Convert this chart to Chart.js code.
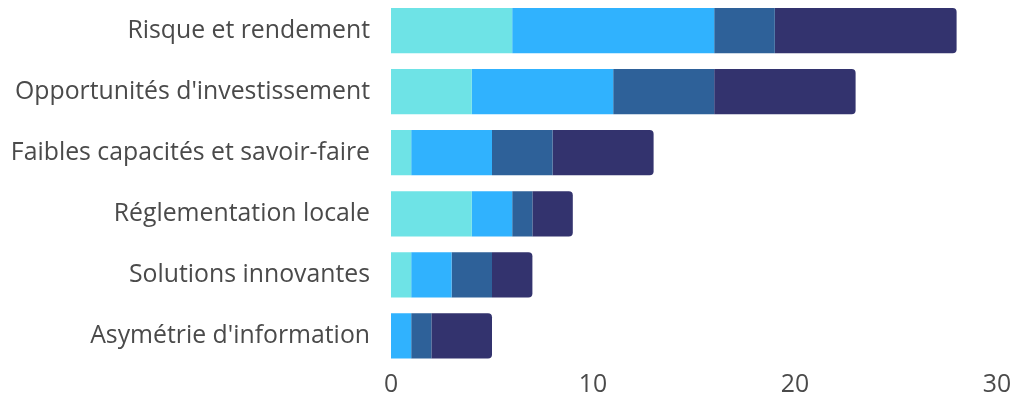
<!DOCTYPE html>
<html>
<head>
<meta charset="utf-8">
<script src="https://cdn.jsdelivr.net/npm/chart.js@4"></script>
<style>
  html, body { margin: 0; padding: 0; background: #fff; }
  #wrap { width: 1014px; height: 401px; position: relative; }
</style>
</head>
<body>
<div id="wrap"><canvas id="barriersChart"></canvas></div>
<script>
'use strict';

let categories = [
  'Risque et rendement',
  "Opportunités d'investissement",
  'Faibles capacités et savoir-faire',
  'Réglementation locale',
  'Solutions innovantes',
  "Asymétrie d'information"
];
let series1 = [6, 4, 1, 4, 1, 0];
let series2 = [10, 7, 4, 2, 2, 1];
let series3 = [3, 5, 3, 1, 2, 1];
let series4 = [9, 7, 5, 2, 2, 3];
let seriesNames = ['Série 1', 'Série 2', 'Série 3', 'Série 4'];
let xTicks = [0, 10, 20, 30];

let colors = ['#6ee3e6', '#30b2fe', '#2e6199', '#33336e'];
let textColor = '#4a4a4a';
let font = { family: "'Open Sans', sans-serif", size: 24.8, weight: 400 };

let ctx = document.getElementById('barriersChart').getContext('2d');

function makeDataset (i, values) {
  return {
    label: seriesNames[i],
    data: values,
    backgroundColor: colors[i],
    borderWidth: 0,
    borderRadius: i === 3 ? 4 : 0,
    borderSkipped: 'start',
    barPercentage: 0.74,
    categoryPercentage: 1
  };
}

// drop the half-label padding chart.js adds around the axes
function noPadding (scale) {
  scale.paddingTop = 0;
  scale.paddingBottom = 0;
  scale.paddingLeft = 0;
  scale.paddingRight = 0;
}

let chart = new Chart(ctx, {
  type: 'bar',
  data: {
    labels: categories,
    datasets: [
      makeDataset(0, series1),
      makeDataset(1, series2),
      makeDataset(2, series3),
      makeDataset(3, series4)
    ]
  },
  options: {
    indexAxis: 'y',
    responsive: true,
    maintainAspectRatio: false,
    animation: false,
    layout: { padding: { top: 0, right: 17, bottom: 0, left: 0 } },
    plugins: {
      legend: { display: false },
      tooltip: { enabled: false }
    },
    scales: {
      x: {
        stacked: true,
        min: 0,
        max: 30,
        border: { display: false },
        grid: { display: false, drawTicks: false },
        afterBuildTicks: scale => {
          scale.ticks = xTicks.map(v => ({ value: v }));
        },
        afterFit: scale => {
          noPadding(scale);
          scale.height = 34.5;
        },
        ticks: { color: textColor, font: font, padding: 4 }
      },
      y: {
        stacked: true,
        border: { display: false },
        grid: { display: false, drawTicks: false },
        afterFit: scale => {
          noPadding(scale);
          scale.width = 391;
        },
        ticks: { color: textColor, font: font, padding: 21 }
      }
    }
  }
});
</script>
</body>
</html>
